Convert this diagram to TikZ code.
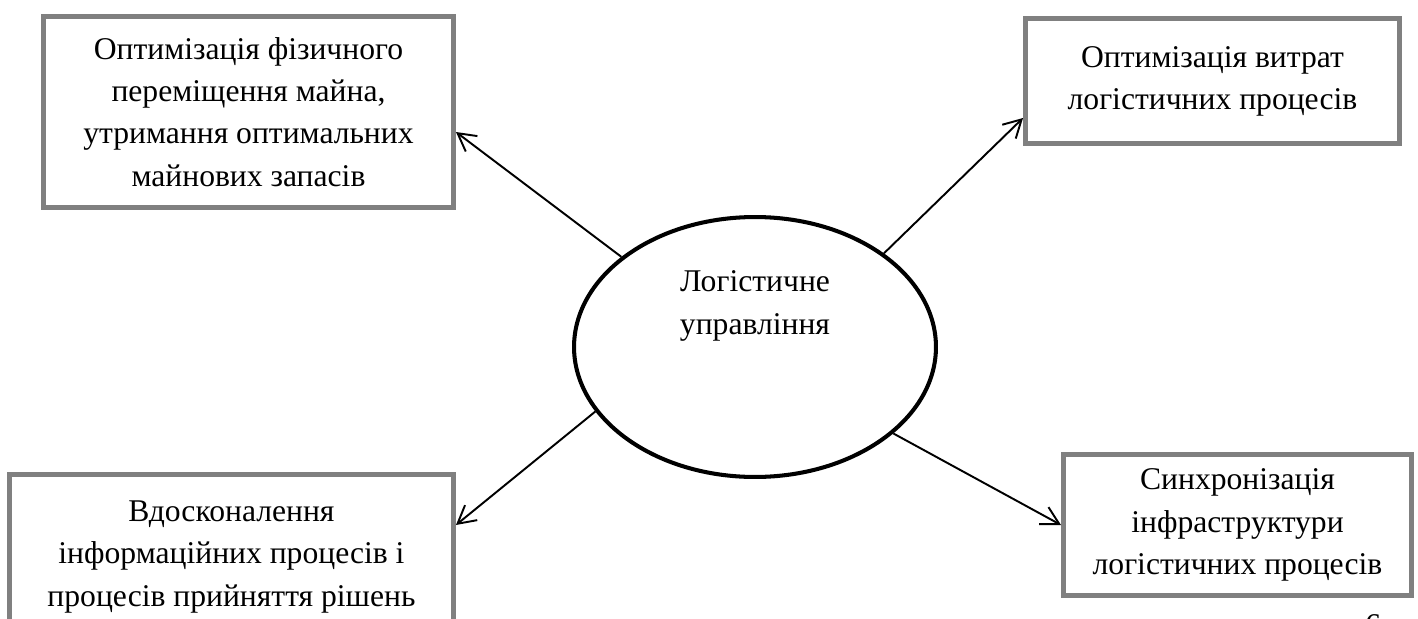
\documentclass[tikz,border=0pt]{standalone}
\usepackage{fontspec}
\setmainfont{Liberation Serif}
\usetikzlibrary{shapes.geometric,arrows.meta,calc}
\definecolor{boxgray}{RGB}{128,128,128}

\begin{document}
\begin{tikzpicture}[x=0.02cm,y=-0.02cm,
    goal/.style={draw=boxgray,line width=2.85pt,align=center,inner sep=0pt,
      font=\fontsize{18}{24}\selectfont},
    core/.style={draw,ellipse,line width=2.3pt,minimum width=7.24cm,
      minimum height=5.2cm,inner sep=0pt},
    link/.style={-{Straight Barb[length=10pt,width=11pt]},line width=1.1pt}]
  \useasboundingbox (0,0) rectangle (1418,619);
  % goals round the core
  \node[goal,minimum width=8.2cm,minimum height=3.82cm] (move) at (248.5,112)
    {Оптимізація фізичного\\переміщення майна,\\утримання оптимальних\\майнових запасів};
  \node[goal,minimum width=7.48cm,minimum height=2.5cm] (cost) at (1212.5,81)
    {Оптимізація витрат\\логістичних процесів};
  \node[goal,minimum width=8.88cm,minimum height=3.3cm] (info) at (231.5,557)
    {Вдосконалення\\інформаційних процесів і\\процесів прийняття рішень};
  \node[goal,minimum width=6.96cm,minimum height=2.82cm] (sync) at (1237.5,525)
    {Синхронізація\\інфраструктури\\логістичних процесів};
  % core
  \node[core] (core) at (755,347) {};
  \node[align=center,font=\fontsize{18}{24}\selectfont] (coretext)
    at ($(core.center)+(0,-41)$) {Логістичне\\управління};
  \draw[link] (core.146) -- ($(move.east)+(0,20)$);
  \draw[link] (core.36) -- ($(cost.west)+(0,37)$);
  \draw[link] (core.202) -- ($(info.east)+(0,-32)$);
  \draw[link] (core.-32) -- (sync.west);
  \node[font=\fontsize{18}{24}\selectfont] (pagenum) at (1373,625) {6};
\end{tikzpicture}
\end{document}
